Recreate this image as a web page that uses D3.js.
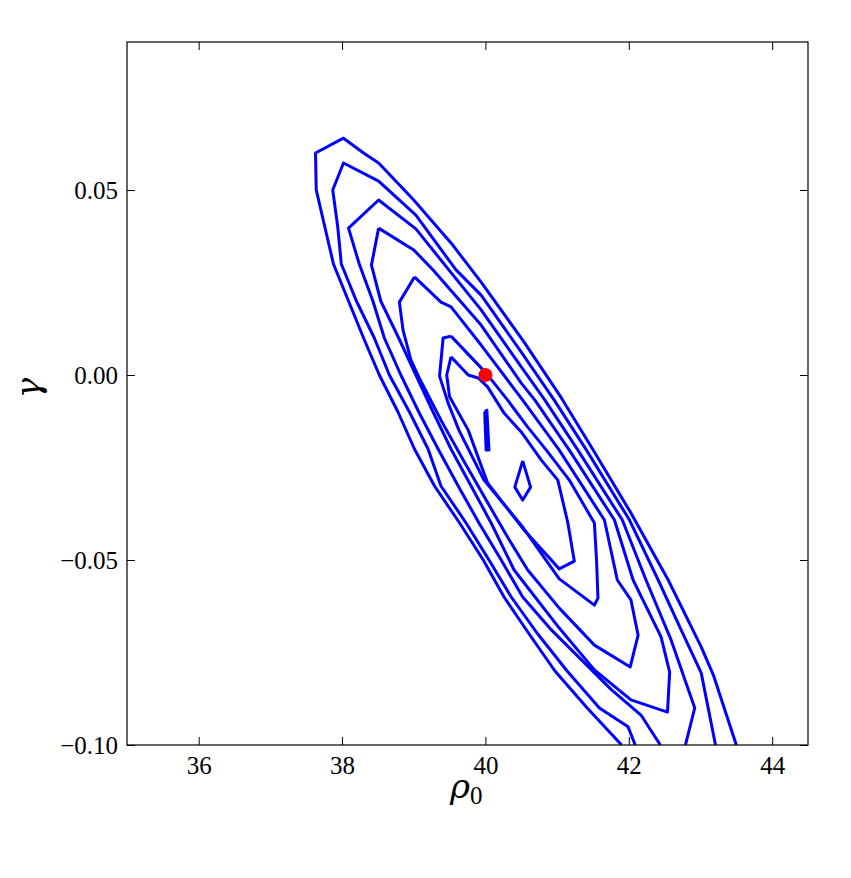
<!DOCTYPE html>
<html>
<head>
<meta charset="utf-8">
<script src="https://cdn.jsdelivr.net/npm/d3@7"></script>
<style>
  body { margin: 0; background: #fff; }
  .axis text { font-family: "Liberation Serif", "DejaVu Serif", serif; font-size: 25px; fill: #000; }
  .axis line { stroke: #000; }
</style>
</head>
<body>
<div id="chart"></div>
<script>
// tick values
const xTicks = [36, 38, 40, 42, 44];
const yTicks = [-0.10, -0.05, 0.00, 0.05];

// true parameter point
const bestFit = [40.0, 0.0];

// contour lines, outermost first, as [rho0, gamma]
const contour1 = [[41.90,-0.100],[41.42,-0.090],[40.97,-0.080],[40.61,-0.070],[40.26,-0.060],[39.97,-0.050],[39.64,-0.040],[39.29,-0.030],[39.01,-0.020],[38.78,-0.010],[38.52,0.000],[38.30,0.010],[38.09,0.020],[37.88,0.030],[37.76,0.040],[37.64,0.050],[37.63,0.060],[38.02,0.064],[38.30,0.060],[38.51,0.0573],[39.00,0.0473],[39.52,0.0357],[39.94,0.0251],[40.54,0.0089],[41.06,-0.0062],[41.52,-0.0208],[42.03,-0.0373],[42.55,-0.0554],[43.01,-0.0735],[43.18,-0.0811],[43.50,-0.100]];
const contour2 = [[42.09,-0.100],[41.99,-0.0951],[41.59,-0.090],[41.14,-0.080],[40.73,-0.070],[40.36,-0.060],[40.05,-0.050],[39.73,-0.040],[39.38,-0.030],[39.20,-0.020],[38.94,-0.010],[38.66,0.000],[38.45,0.010],[38.20,0.020],[37.99,0.030],[37.94,0.040],[37.87,0.050],[38.02,0.0573],[38.51,0.0524],[39.03,0.0432],[39.59,0.0284],[39.94,0.0216],[40.50,0.0062],[40.96,-0.0068],[41.41,-0.0203],[42.01,-0.0392],[42.41,-0.0554],[42.73,-0.0689],[43.01,-0.0805],[43.21,-0.100]];
const contour3 = [[42.44,-0.100],[42.17,-0.0919],[41.76,-0.0851],[41.34,-0.0770],[40.92,-0.0689],[40.52,-0.060],[40.22,-0.050],[39.91,-0.040],[39.62,-0.030],[39.34,-0.020],[39.07,-0.010],[38.82,0.000],[38.59,0.010],[38.43,0.020],[38.24,0.030],[38.09,0.0397],[38.51,0.0473],[39.03,0.0395],[39.49,0.0284],[39.94,0.0176],[40.50,0.0022],[40.83,-0.0068],[41.29,-0.0203],[41.91,-0.0392],[42.24,-0.0554],[42.59,-0.0716],[42.92,-0.090],[42.79,-0.100]];
const contour4 = [[38.51,0.0397],[39.00,0.0338],[39.27,0.0284],[39.94,0.0135],[40.50,-0.0022],[40.69,-0.0068],[41.17,-0.0203],[41.80,-0.0392],[42.06,-0.0554],[42.45,-0.0708],[42.57,-0.0803],[42.54,-0.0911],[42.03,-0.0878],[41.52,-0.0797],[41.03,-0.0684],[40.40,-0.0527],[40.08,-0.040],[39.80,-0.030],[39.52,-0.020],[39.27,-0.010],[39.03,0.000],[38.79,0.010],[38.54,0.020],[38.41,0.0297],[38.51,0.0397]];
const contour5 = [[39.01,0.0265],[39.38,0.0197],[39.52,0.0184],[39.94,0.0081],[40.52,-0.0068],[41.03,-0.0203],[41.66,-0.0392],[41.84,-0.0554],[42.03,-0.0608],[42.13,-0.0703],[42.02,-0.0789],[41.52,-0.0730],[41.03,-0.0630],[40.59,-0.0527],[40.29,-0.0432],[40.01,-0.0338],[39.69,-0.0230],[39.38,-0.0122],[39.07,-0.0005],[38.96,0.0041],[38.85,0.0122],[38.80,0.0197],[39.01,0.0265]];
const contour6 = [[39.52,0.0105],[40.01,0.0005],[40.31,-0.0068],[40.59,-0.0141],[40.85,-0.0203],[41.17,-0.0284],[41.52,-0.0400],[41.55,-0.050],[41.57,-0.0603],[41.52,-0.0622],[41.03,-0.0551],[40.52,-0.0411],[39.98,-0.0284],[39.63,-0.0149],[39.48,-0.0076],[39.36,-0.0003],[39.41,0.010],[39.52,0.0105]];
const contour7 = [[39.52,0.0049],[39.76,0.000],[39.90,-0.0008],[40.03,-0.0032],[40.26,-0.0103],[40.50,-0.0154],[40.78,-0.0230],[41.01,-0.0284],[41.15,-0.040],[41.24,-0.0503],[41.03,-0.0524],[40.54,-0.0419],[40.03,-0.0292],[39.76,-0.0149],[39.50,-0.0059],[39.46,0.000],[39.52,0.0049]];
// small islands of the highest level
const island1 = [[39.99,-0.0100],[40.02,-0.0095],[40.05,-0.0203],[40.01,-0.0203],[39.99,-0.0100]];
const island2 = [[40.52,-0.0232],[40.63,-0.0303],[40.52,-0.0338],[40.41,-0.0303],[40.52,-0.0232]];

const contours = [contour1, contour2, contour3, contour4, contour5, contour6, contour7, island1, island2];

const width = 851;
const height = 878;
const plotLeft = 127, plotRight = 808, plotTop = 42, plotBottom = 745;

const svg = d3.select('#chart')
  .append('svg')
  .attr('width', width)
  .attr('height', height)

const xScale = d3.scaleLinear()
  .domain([35, 44.5])
  .range([plotLeft, plotRight])

const yScale = d3.scaleLinear()
  .domain([-0.10, 0.09])
  .range([plotBottom, plotTop])

const clip = svg.append('clipPath').attr('id', 'clip')
clip.append('rect')
  .attr('x', plotLeft).attr('y', plotTop)
  .attr('width', plotRight - plotLeft).attr('height', plotBottom - plotTop)

const line = d3.line()
  .x(d => xScale(d[0]))
  .y(d => yScale(d[1]))

svg.append('g')
  .attr('clip-path', 'url(#clip)')
  .selectAll('path')
  .data(contours)
  .enter()
  .append('path')
  .attr('d', line)
  .attr('fill', 'none')
  .attr('stroke', '#0000ff')
  .attr('stroke-width', 3)
  .attr('stroke-linejoin', 'round')

svg.append('circle')
  .attr('cx', xScale(bestFit[0]))
  .attr('cy', yScale(bestFit[1]))
  .attr('r', 7)
  .attr('fill', '#ff0000')

// axes with inward ticks on all four sides
const tick = 8;
svg.append('g')
  .attr('class', 'axis')
  .attr('transform', `translate(0, ${plotBottom})`)
  .call(d3.axisBottom(xScale).tickValues(xTicks).tickSize(-tick).tickPadding(11).tickFormat(d3.format('d')))
  .call(g => g.select('.domain').remove())

svg.append('g')
  .attr('class', 'axis')
  .attr('transform', `translate(0, ${plotTop})`)
  .call(d3.axisTop(xScale).tickValues(xTicks).tickSize(-tick).tickFormat(''))
  .call(g => g.select('.domain').remove())

svg.append('g')
  .attr('class', 'axis')
  .attr('transform', `translate(${plotLeft}, 0)`)
  .call(d3.axisLeft(yScale).tickValues(yTicks).tickSize(-tick).tickPadding(9).tickFormat(d3.format('.2f')))
  .call(g => g.select('.domain').remove())

svg.append('g')
  .attr('class', 'axis')
  .attr('transform', `translate(${plotRight}, 0)`)
  .call(d3.axisRight(yScale).tickValues(yTicks).tickSize(-tick).tickFormat(''))
  .call(g => g.select('.domain').remove())

svg.append('rect')
  .attr('x', plotLeft).attr('y', plotTop)
  .attr('width', plotRight - plotLeft).attr('height', plotBottom - plotTop)
  .attr('fill', 'none')
  .attr('stroke', '#000')
  .attr('stroke-width', 1.2)

// axis labels
const xLabel = svg.append('text')
  .attr('x', 450)
  .attr('y', 798)
  .style('font-family', '"DejaVu Serif", serif')
  .style('font-size', '34px')
xLabel.append('tspan').style('font-style', 'italic').text('ρ')
xLabel.append('tspan').attr('dy', 6).style('font-size', '25px').style('font-family', '"Liberation Serif", serif').text('0')

svg.append('text')
  .attr('transform', 'translate(40, 388) rotate(-90)')
  .attr('text-anchor', 'middle')
  .style('font-family', '"DejaVu Serif", serif')
  .style('font-style', 'italic')
  .style('font-size', '34px')
  .text('γ')
</script>
</body>
</html>
